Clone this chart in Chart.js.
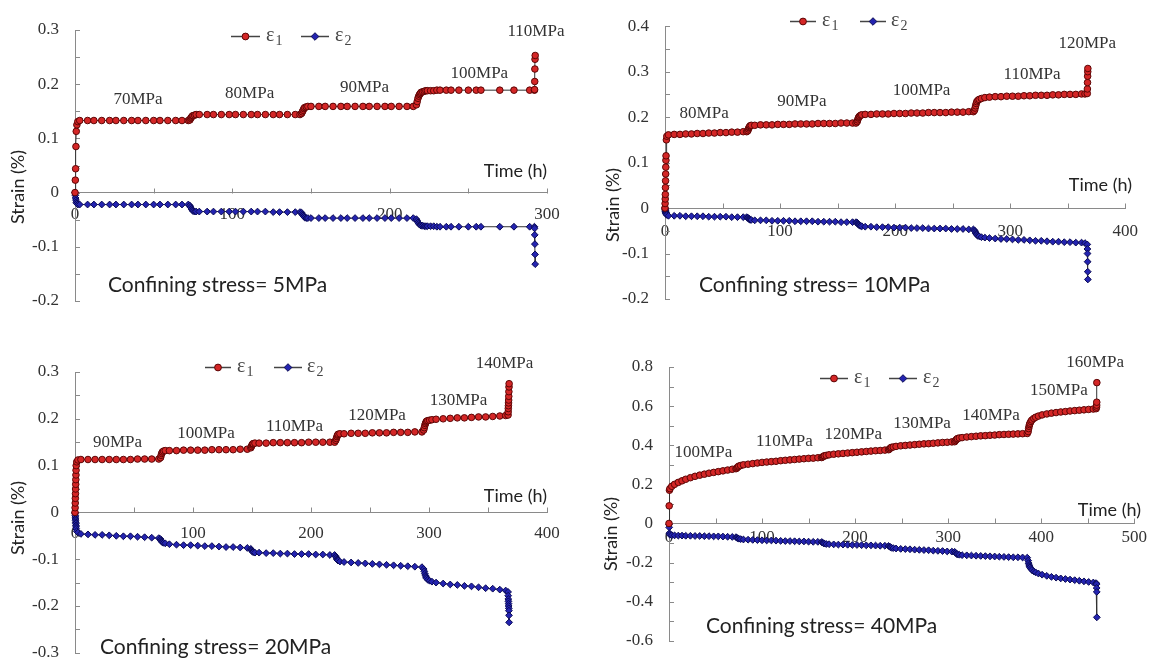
<!DOCTYPE html>
<html>
<head>
<meta charset="utf-8">
<script src="https://cdn.jsdelivr.net/npm/chart.js@4/dist/chart.umd.min.js"></script>
<style>
  body { margin: 0; background: #fff; width: 1151px; height: 667px; position: relative; overflow: hidden; }
  canvas { position: absolute; }
</style>
</head>
<body>
<canvas id="c1" width="575" height="332" style="left:0;top:0"></canvas>
<canvas id="c2" width="575" height="332" style="left:576px;top:0"></canvas>
<canvas id="c3" width="575" height="345" style="left:0;top:334px"></canvas>
<canvas id="c4" width="575" height="333" style="left:576px;top:334px"></canvas>
<script>
// confining stress 5 MPa
const t5 = [0, 0.2, 0.4, 0.6, 0.8, 1.2, 1.8,
  3, 8, 12, 17, 22, 26, 31, 36, 40, 45, 50, 54, 59, 64, 68, 72,
  73, 73.5, 74, 74.5, 75, 76, 77,
  79, 84, 88, 93, 98, 102, 107, 112, 116, 121, 126, 130, 135, 140, 143,
  144, 144.5, 145, 145.5, 146, 147, 148,
  150, 155, 159, 164, 169, 173, 178, 183, 187, 192, 197, 201, 206, 211, 215,
  217, 217.5, 218, 218.5, 219, 219.5, 220, 221, 222, 223, 224, 226, 228,
  230, 232, 236, 239, 244, 250, 255, 258, 270, 279, 289, 292,
  292.1, 292.2, 292.3, 292.4, 292.5];
const e1_5 = [0, 0.023, 0.044, 0.085, 0.113, 0.125, 0.131,
  0.133, 0.133, 0.133, 0.133, 0.133, 0.133, 0.133, 0.133, 0.133, 0.133, 0.133, 0.133, 0.133, 0.133, 0.133, 0.133,
  0.134, 0.137, 0.139, 0.141, 0.142, 0.143, 0.144,
  0.144, 0.144, 0.144, 0.144, 0.144, 0.144, 0.144, 0.144, 0.144, 0.144, 0.144, 0.144, 0.144, 0.144, 0.144,
  0.146, 0.149, 0.152, 0.155, 0.157, 0.158, 0.159,
  0.159, 0.159, 0.159, 0.159, 0.159, 0.159, 0.159, 0.159, 0.159, 0.159, 0.159, 0.159, 0.159, 0.159, 0.159,
  0.162, 0.168, 0.174, 0.178, 0.181, 0.183, 0.185, 0.186, 0.187, 0.188, 0.188, 0.188, 0.188,
  0.189, 0.189, 0.189, 0.189, 0.189, 0.189, 0.189, 0.189, 0.189, 0.189, 0.189, 0.189,
  0.19, 0.205, 0.228, 0.246, 0.253];
const e2_5 = [0, -0.005, -0.01, -0.014, -0.018, -0.02, -0.022,
  -0.022, -0.022, -0.022, -0.022, -0.022, -0.022, -0.022, -0.022, -0.022, -0.022, -0.022, -0.022, -0.022, -0.022, -0.022, -0.022,
  -0.024, -0.027, -0.03, -0.032, -0.034, -0.035, -0.035,
  -0.035, -0.035, -0.035, -0.035, -0.035, -0.035, -0.035, -0.035, -0.035, -0.035, -0.036, -0.036, -0.036, -0.036, -0.036,
  -0.037, -0.04, -0.042, -0.044, -0.046, -0.047, -0.047,
  -0.047, -0.047, -0.047, -0.047, -0.047, -0.047, -0.047, -0.047, -0.047, -0.047, -0.047, -0.047, -0.047, -0.047, -0.047,
  -0.049, -0.052, -0.055, -0.057, -0.059, -0.06, -0.061, -0.061, -0.062, -0.062, -0.062, -0.062, -0.062,
  -0.063, -0.063, -0.063, -0.063, -0.063, -0.063, -0.063, -0.063, -0.063, -0.063, -0.063, -0.063,
  -0.066, -0.078, -0.095, -0.114, -0.132];
const levels5 = ['70MPa', '80MPa', '90MPa', '100MPa', '110MPa'];

// confining stress 10 MPa
const t10 = [0, 0.1, 0.2, 0.3, 0.4, 0.5, 0.6, 0.7, 0.8, 0.9, 1.2, 1.6,
  3, 8, 13, 18, 23, 28, 33, 38, 43, 48, 53, 58, 63, 68, 71,
  72, 72.5, 73, 73.5, 74, 75,
  78, 83, 88, 93, 98, 103, 108, 113, 118, 123, 128, 133, 138, 143, 148, 153, 158, 163, 166,
  167, 167.5, 168, 168.5, 169, 170, 171,
  174, 179, 184, 189, 194, 199, 204, 209, 214, 219, 224, 229, 234, 239, 244, 249, 254, 259, 264, 268,
  269, 269.5, 270, 270.5, 271, 272, 273, 275, 278,
  282, 287, 292, 297, 302, 307, 312, 317, 322, 327, 332, 337, 342, 347, 352, 357, 362, 365,
  367, 367.1, 367.2, 367.3, 367.4, 367.5];
const e1_10 = [0, 0.01, 0.02, 0.03, 0.045, 0.06, 0.075, 0.09, 0.105, 0.115, 0.15, 0.158,
  0.161, 0.162, 0.162, 0.163, 0.163, 0.164, 0.164, 0.165, 0.165, 0.166, 0.166, 0.167, 0.167, 0.168, 0.168,
  0.17, 0.174, 0.177, 0.179, 0.181, 0.182,
  0.182, 0.183, 0.183, 0.183, 0.184, 0.184, 0.184, 0.185, 0.185, 0.185, 0.185, 0.186, 0.186, 0.186, 0.186, 0.187, 0.187, 0.187, 0.187,
  0.19, 0.194, 0.198, 0.2, 0.202, 0.204, 0.205,
  0.206, 0.206, 0.207, 0.207, 0.207, 0.208, 0.208, 0.208, 0.209, 0.209, 0.209, 0.21, 0.21, 0.21, 0.21, 0.211, 0.211, 0.211, 0.212, 0.212,
  0.215, 0.22, 0.225, 0.23, 0.234, 0.237, 0.239, 0.241, 0.243,
  0.244, 0.245, 0.245, 0.246, 0.246, 0.246, 0.247, 0.247, 0.248, 0.248, 0.248, 0.249, 0.249, 0.25, 0.25, 0.25, 0.251, 0.251,
  0.252, 0.262, 0.276, 0.29, 0.3, 0.307];
const e2_10 = [0, -0.002, -0.004, -0.005, -0.007, -0.008, -0.009, -0.01, -0.011, -0.012, -0.014, -0.015,
  -0.017, -0.017, -0.017, -0.018, -0.018, -0.018, -0.018, -0.019, -0.019, -0.019, -0.019, -0.02, -0.02, -0.02, -0.02,
  -0.021, -0.023, -0.024, -0.025, -0.026, -0.026,
  -0.027, -0.027, -0.027, -0.028, -0.028, -0.028, -0.028, -0.029, -0.029, -0.029, -0.029, -0.03, -0.03, -0.03, -0.03, -0.031, -0.031, -0.031, -0.031,
  -0.032, -0.034, -0.036, -0.037, -0.038, -0.039, -0.04,
  -0.041, -0.041, -0.042, -0.042, -0.042, -0.043, -0.043, -0.043, -0.044, -0.044, -0.044, -0.045, -0.045, -0.045, -0.045, -0.046, -0.046, -0.046, -0.047, -0.047,
  -0.049, -0.052, -0.055, -0.057, -0.059, -0.061, -0.062, -0.064, -0.065,
  -0.066, -0.067, -0.068, -0.068, -0.069, -0.07, -0.07, -0.071, -0.072, -0.072, -0.073, -0.074, -0.074, -0.075, -0.075, -0.076, -0.076, -0.077,
  -0.08, -0.09, -0.1, -0.118, -0.14, -0.157];
const levels10 = ['80MPa', '90MPa', '100MPa', '110MPa', '120MPa'];

// confining stress 20 MPa
const t20 = [0, 0.1, 0.2, 0.3, 0.4, 0.5, 0.6, 0.7, 0.8, 0.9, 1, 1.5, 2.5,
  5, 11, 17, 23, 29, 35, 41, 47, 53, 59, 65, 71,
  72.5, 73, 73.5, 74, 75, 76.5,
  80, 86, 92, 98, 104, 110, 116, 122, 128, 134, 140, 146,
  149, 149.5, 150, 150.5, 151, 152.5,
  156, 162, 168, 174, 180, 186, 192, 198, 204, 210, 216, 220,
  221, 221.5, 222, 222.5, 223, 224.5,
  228, 234, 240, 246, 252, 258, 264, 270, 276, 282, 288, 294,
  295.5, 296, 296.5, 297, 297.5, 298, 299, 300.5, 302.5,
  306, 312, 318, 324, 330, 336, 342, 348, 354, 360, 365,
  367, 367.1, 367.2, 367.3, 367.4, 367.5, 367.6, 367.7, 367.8, 367.9];
const e1_20 = [0, 0.01, 0.02, 0.03, 0.04, 0.05, 0.06, 0.07, 0.08, 0.09, 0.1, 0.108, 0.112,
  0.113, 0.113, 0.113, 0.113, 0.113, 0.113, 0.113, 0.113, 0.114, 0.114, 0.114, 0.114,
  0.117, 0.122, 0.126, 0.129, 0.131, 0.132,
  0.132, 0.132, 0.133, 0.133, 0.133, 0.133, 0.134, 0.134, 0.134, 0.134, 0.135, 0.135,
  0.138, 0.141, 0.144, 0.146, 0.147, 0.148,
  0.148, 0.148, 0.149, 0.149, 0.149, 0.149, 0.149, 0.15, 0.15, 0.15, 0.15, 0.15,
  0.154, 0.158, 0.162, 0.165, 0.167, 0.168,
  0.168, 0.169, 0.169, 0.169, 0.17, 0.17, 0.17, 0.171, 0.171, 0.171, 0.172, 0.172,
  0.176, 0.181, 0.186, 0.19, 0.193, 0.195, 0.196, 0.197, 0.198,
  0.199, 0.2, 0.201, 0.202, 0.202, 0.203, 0.204, 0.204, 0.205, 0.206, 0.207,
  0.208, 0.215, 0.222, 0.228, 0.234, 0.24, 0.248, 0.258, 0.268, 0.275];
const e2_20 = [0, -0.003, -0.007, -0.01, -0.014, -0.017, -0.021, -0.024, -0.028, -0.031, -0.035, -0.04, -0.043,
  -0.046, -0.047, -0.048, -0.048, -0.049, -0.05, -0.051, -0.051, -0.052, -0.053, -0.054, -0.055,
  -0.057, -0.06, -0.062, -0.064, -0.065, -0.066,
  -0.068, -0.069, -0.07, -0.07, -0.071, -0.072, -0.072, -0.073, -0.074, -0.074, -0.075, -0.076,
  -0.078, -0.08, -0.082, -0.084, -0.085, -0.086,
  -0.086, -0.087, -0.087, -0.088, -0.088, -0.089, -0.089, -0.089, -0.09, -0.09, -0.091, -0.091,
  -0.094, -0.097, -0.1, -0.102, -0.103, -0.105,
  -0.106, -0.107, -0.108, -0.109, -0.11, -0.111, -0.112, -0.113, -0.114, -0.115, -0.116, -0.117,
  -0.121, -0.126, -0.131, -0.135, -0.138, -0.141, -0.144, -0.146, -0.148,
  -0.15, -0.152, -0.154, -0.155, -0.157, -0.158, -0.16, -0.162, -0.163, -0.165, -0.167,
  -0.17, -0.178, -0.185, -0.19, -0.195, -0.2, -0.205, -0.21, -0.22, -0.235];
const levels20 = ['90MPa', '100MPa', '110MPa', '120MPa', '130MPa', '140MPa'];

// confining stress 40 MPa
const t40 = [0, 0.2, 0.5,
  1, 3, 6, 10, 14, 18, 23, 28, 33, 38, 43, 48, 53, 58, 63, 68, 72,
  73, 74, 75, 77,
  80, 85, 90, 95, 100, 105, 110, 115, 120, 125, 130, 135, 140, 145, 150, 155, 160, 164,
  165, 166, 167, 169,
  172, 177, 182, 187, 192, 197, 202, 207, 212, 217, 222, 227, 232, 236,
  237, 238, 239, 241,
  244, 249, 254, 259, 264, 269, 274, 279, 284, 289, 294, 299, 304, 307,
  308, 309, 310, 312,
  315, 320, 325, 330, 335, 340, 345, 350, 355, 360, 365, 370, 375, 380, 385,
  386, 386.5, 387, 387.5, 388, 389, 390, 392, 394, 397,
  401, 406, 411, 416, 421, 426, 431, 436, 441, 446, 451, 456, 459,
  459.5, 459.6, 459.7, 459.8];
const e1_40 = [0, 0.09, 0.17,
  0.178, 0.19, 0.2, 0.21, 0.218, 0.226, 0.234, 0.241, 0.247, 0.252, 0.257, 0.261, 0.265, 0.269, 0.273, 0.277, 0.28,
  0.284, 0.289, 0.293, 0.296,
  0.3, 0.303, 0.306, 0.309, 0.312, 0.314, 0.316, 0.318, 0.321, 0.323, 0.325, 0.327, 0.329, 0.331, 0.333, 0.334, 0.336, 0.337,
  0.34, 0.343, 0.346, 0.348,
  0.351, 0.354, 0.356, 0.358, 0.36, 0.362, 0.364, 0.366, 0.368, 0.37, 0.372, 0.373, 0.375, 0.377,
  0.381, 0.386, 0.389, 0.391,
  0.394, 0.397, 0.399, 0.401, 0.403, 0.405, 0.407, 0.408, 0.41, 0.412, 0.414, 0.415, 0.417, 0.418,
  0.424, 0.43, 0.434, 0.437,
  0.439, 0.442, 0.444, 0.446, 0.448, 0.449, 0.451, 0.452, 0.454, 0.455, 0.456, 0.457, 0.458, 0.459, 0.46,
  0.47, 0.485, 0.497, 0.506, 0.513, 0.522, 0.529, 0.537, 0.543, 0.549,
  0.555, 0.56, 0.564, 0.567, 0.57, 0.572, 0.575, 0.577, 0.579, 0.581, 0.583, 0.585, 0.587,
  0.595, 0.605, 0.62, 0.72];
const e2_40 = [-0.005, -0.02, -0.05,
  -0.058, -0.06, -0.061, -0.062, -0.062, -0.063, -0.063, -0.064, -0.064, -0.065, -0.065, -0.066, -0.066, -0.067, -0.068, -0.069, -0.07,
  -0.073, -0.076, -0.078, -0.08,
  -0.082, -0.083, -0.084, -0.085, -0.086, -0.087, -0.087, -0.088, -0.089, -0.09, -0.09, -0.091, -0.092, -0.092, -0.093, -0.094, -0.094, -0.095,
  -0.098, -0.101, -0.103, -0.105,
  -0.106, -0.107, -0.108, -0.108, -0.109, -0.11, -0.11, -0.111, -0.112, -0.112, -0.113, -0.114, -0.114, -0.115,
  -0.118, -0.121, -0.124, -0.126,
  -0.128, -0.13, -0.131, -0.132, -0.134, -0.135, -0.136, -0.137, -0.139, -0.14, -0.141, -0.143, -0.144, -0.145,
  -0.15, -0.155, -0.158, -0.16,
  -0.162, -0.163, -0.164, -0.165, -0.166, -0.167, -0.168, -0.169, -0.17, -0.171, -0.172, -0.173, -0.173, -0.174, -0.175,
  -0.19, -0.203, -0.212, -0.219, -0.225, -0.232, -0.238, -0.245, -0.25, -0.256,
  -0.262, -0.268, -0.273, -0.277, -0.281, -0.284, -0.287, -0.29, -0.293, -0.296, -0.299, -0.302, -0.305,
  -0.31, -0.33, -0.35, -0.48];
const levels40 = ['100MPa', '110MPa', '120MPa', '130MPa', '140MPa', '150MPa', '160MPa'];

// layout of each panel (pixels inside its canvas; label anchors in data units)
const panels = [
  { id: 'c1', t: t5, e1: e1_5, e2: e2_5, xMax: 300, yMin: -0.2, yMax: 0.3, yStep: 0.05, yEvery: 2,
    pad: { left: 0, top: 30, right: 28, bottom: 31 }, yW: 75, xPad: 12,
    caption: 'Confining stress= 5MPa', capAt: [108, 285], timeAt: [547, 171], yTitleAt: [18, 187],
    levels: levels5, levelAt: [[40, 0.171], [111, 0.182], [184, 0.193], [257, 0.219], [293, 0.297]],
    legend: { y: 36, red: [231, 260], blue: [301, 329], txt: [266, 335] } },
  { id: 'c2', t: t10, e1: e1_10, e2: e2_10, xMax: 400, yMin: -0.2, yMax: 0.4, yStep: 0.05, yEvery: 2,
    pad: { left: 0, top: 18, right: 15, bottom: 33 }, yW: 89, xPad: 13,
    caption: 'Confining stress= 10MPa', capAt: [123, 285], timeAt: [556, 185], yTitleAt: [37, 205],
    levels: levels10, levelAt: [[34, 0.209], [119, 0.234], [223, 0.259], [319, 0.294], [367, 0.361]],
    legend: { y: 21, red: [214, 240], blue: [284, 310], txt: [246, 315] } },
  { id: 'c3', t: t20, e1: e1_20, e2: e2_20, xMax: 400, yMin: -0.3, yMax: 0.3, yStep: 0.05, yEvery: 2,
    pad: { left: 0, top: 38, right: 28, bottom: 21 }, yW: 75, xPad: 11,
    caption: 'Confining stress= 20MPa', capAt: [100, 313], timeAt: [547, 162], yTitleAt: [18, 184],
    levels: levels20, levelAt: [[36, 0.15], [111, 0.169], [186, 0.183], [256, 0.206], [325, 0.24], [364, 0.318]],
    legend: { y: 33, red: [205, 231], blue: [274, 302], txt: [237, 307] } },
  { id: 'c4', t: t40, e1: e1_40, e2: e2_40, xMax: 500, yMin: -0.6, yMax: 0.8, yStep: 0.1, yEvery: 2,
    pad: { left: 0, top: 33, right: 15, bottom: 19 }, yW: 93, xPad: 4,
    caption: 'Confining stress= 40MPa', capAt: [130, 292], timeAt: [565, 176], yTitleAt: [35, 200],
    levels: levels40, levelAt: [[37, 0.365], [124, 0.42], [198, 0.457], [272, 0.512], [346, 0.553], [419, 0.678], [458, 0.823]],
    legend: { y: 44, red: [244, 272], blue: [313, 341], txt: [278, 347] } }
];

const RED = '#d42626', RED_EDGE = '#5c0606';
const BLUE = '#2424b0', BLUE_EDGE = '#0a0a55';
const AXIS = '#8a8a8a';

Chart.defaults.font.family = "'Liberation Serif', 'Times New Roman', serif";
Chart.defaults.font.size = 17;

function dot(ctx, x, y, shape) {
  ctx.beginPath();
  if (shape === 'circle') {
    ctx.arc(x, y, 3.4, 0, Math.PI * 2);
    ctx.fillStyle = RED; ctx.strokeStyle = RED_EDGE;
  } else {
    ctx.moveTo(x, y - 3.8); ctx.lineTo(x + 3.8, y); ctx.lineTo(x, y + 3.8); ctx.lineTo(x - 3.8, y); ctx.closePath();
    ctx.fillStyle = BLUE; ctx.strokeStyle = BLUE_EDGE;
  }
  ctx.fill(); ctx.lineWidth = 1; ctx.stroke();
}

// inward tick marks, captions, stress levels and legend
function makeDecor(p) {
  return {
    id: 'decor',
    beforeDatasetsDraw(chart) {
      const { ctx, chartArea: a, scales: { x, y } } = chart;
      const y0 = Math.round(y.getPixelForValue(0)) + 0.5;
      ctx.save();
      ctx.strokeStyle = AXIS; ctx.lineWidth = 1;
      ctx.beginPath();
      y.ticks.forEach(tk => {
        const py = Math.round(y.getPixelForValue(tk.value)) + 0.5;
        ctx.moveTo(a.left, py); ctx.lineTo(a.left + 5, py);
      });
      x.ticks.forEach(tk => {
        const px = Math.round(x.getPixelForValue(tk.value)) + 0.5;
        ctx.moveTo(px, y0); ctx.lineTo(px, y0 - 5);
      });
      ctx.stroke();
      ctx.restore();
    },
    afterDatasetsDraw(chart) {
      const { ctx, scales: { x, y } } = chart;
      ctx.save();
      ctx.fillStyle = '#222';
      ctx.textBaseline = 'middle';

      ctx.font = '18px Lato';
      ctx.textAlign = 'center';
      ctx.save();
      ctx.translate(p.yTitleAt[0], p.yTitleAt[1]);
      ctx.rotate(-Math.PI / 2);
      ctx.fillText('Strain (%)', 0, 0);
      ctx.restore();

      ctx.textAlign = 'right';
      ctx.fillText('Time (h)', p.timeAt[0], p.timeAt[1]);

      ctx.font = '21px Lato';
      ctx.textAlign = 'left';
      ctx.fillText(p.caption, p.capAt[0], p.capAt[1]);

      ctx.font = '17px "Liberation Serif"';
      ctx.fillStyle = '#333';
      ctx.textAlign = 'center';
      p.levels.forEach((txt, i) => {
        ctx.fillText(txt, x.getPixelForValue(p.levelAt[i][0]), y.getPixelForValue(p.levelAt[i][1]));
      });

      const L = p.legend;
      [[L.red, 'circle', '1', L.txt[0]], [L.blue, 'diamond', '2', L.txt[1]]].forEach(([seg, shape, sub, tx]) => {
        ctx.strokeStyle = '#444'; ctx.lineWidth = 1.5;
        ctx.beginPath(); ctx.moveTo(seg[0], L.y + 0.5); ctx.lineTo(seg[1], L.y + 0.5); ctx.stroke();
        dot(ctx, (seg[0] + seg[1]) / 2, L.y + 0.5, shape);
        ctx.fillStyle = '#444';
        ctx.textAlign = 'left';
        ctx.font = '20px "Liberation Serif"';
        ctx.fillText('\u03b5', tx, L.y);
        const w = ctx.measureText('\u03b5').width;
        ctx.font = '14px "Liberation Serif"';
        ctx.fillText(sub, tx + w + 1, L.y + 5);
      });
      ctx.restore();
    }
  };
}

function points(t, v) {
  return t.map((ti, i) => ({ x: ti, y: v[i] }));
}

panels.forEach(p => {
  new Chart(document.getElementById(p.id), {
    type: 'line',
    data: {
      datasets: [
        { label: '\u03b51', data: points(p.t, p.e1), borderColor: '#333', borderWidth: 1,
          pointStyle: 'circle', pointRadius: 3.3, pointBackgroundColor: RED, pointBorderColor: RED_EDGE,
          pointBorderWidth: 1, clip: false },
        { label: '\u03b52', data: points(p.t, p.e2), borderColor: '#333', borderWidth: 1,
          pointStyle: 'rectRot', pointRadius: 3.4, pointBackgroundColor: BLUE, pointBorderColor: BLUE_EDGE,
          pointBorderWidth: 1, clip: false }
      ]
    },
    options: {
      responsive: false,
      animation: false,
      devicePixelRatio: 1,
      layout: { padding: p.pad },
      plugins: { legend: { display: false }, tooltip: { enabled: false } },
      scales: {
        x: {
          type: 'linear', min: 0, max: p.xMax, position: { y: 0 },
          grid: { drawOnChartArea: false, drawTicks: false },
          border: { color: AXIS, width: 1 },
          ticks: {
            stepSize: 50, autoSkip: false, maxRotation: 0, padding: p.xPad, color: '#333',
            callback: v => (Math.round(v) % 100 === 0 ? String(Math.round(v)) : '')
          }
        },
        y: {
          type: 'linear', min: p.yMin, max: p.yMax,
          grid: { drawOnChartArea: false, drawTicks: false },
          border: { color: AXIS, width: 1 },
          afterFit: s => { s.width = p.yW; },
          ticks: {
            stepSize: p.yStep, autoSkip: false, padding: 16, color: '#333',
            callback: v => {
              const n = Math.round(v / p.yStep);
              return n % p.yEvery === 0 ? String(+(n * p.yStep).toFixed(1)) : '';
            }
          }
        }
      }
    },
    plugins: [makeDecor(p)]
  });
});
</script>
</body>
</html>
